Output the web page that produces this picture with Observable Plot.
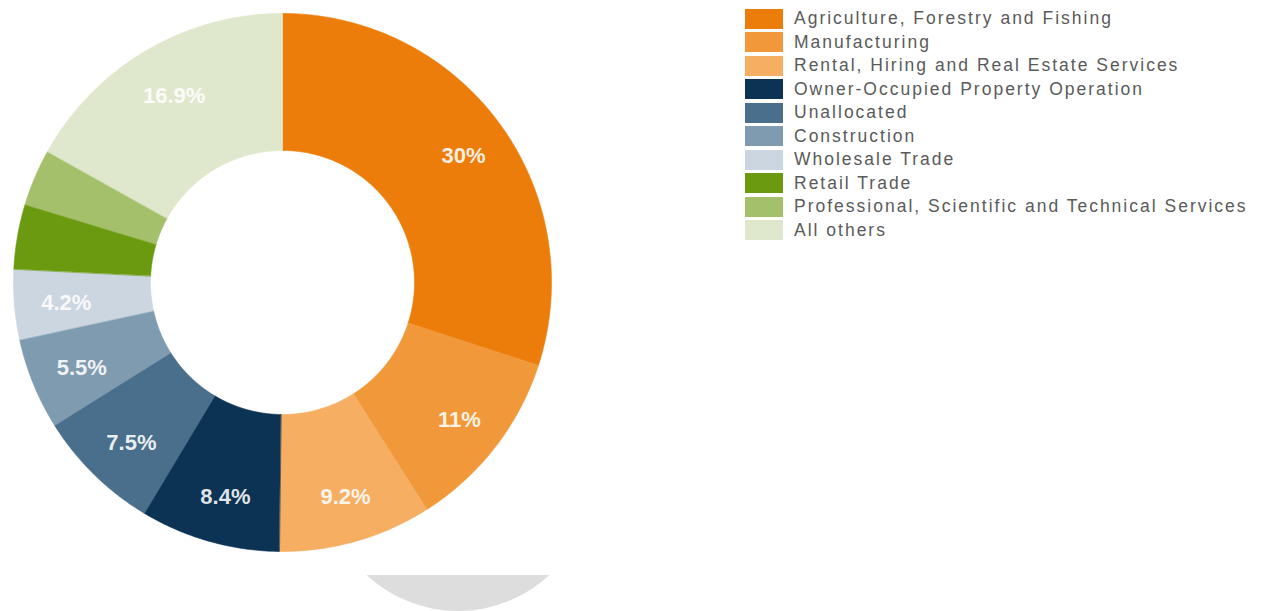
<!DOCTYPE html>
<html>
<head>
<meta charset="utf-8">
<script src="https://cdn.jsdelivr.net/npm/d3@7"></script>
<script src="https://cdn.jsdelivr.net/npm/@observablehq/plot@0.6"></script>
<style>
  html, body { margin: 0; padding: 0; background: #fff; }
  #wrap { position: relative; width: 1267px; height: 611px; overflow: hidden; font-family: "Liberation Sans", Arial, sans-serif; }
  #chart { position: absolute; left: 0; top: 0; }
  #legend { position: absolute; left: 745px; top: 7px; }
  .row { display: flex; align-items: center; height: 23.5px; }
  .sw { width: 38px; height: 20px; margin-right: 11px; }
  .lab { font-size: 17.5px; letter-spacing: 2px; color: #5a5a5a; white-space: nowrap; }
  #ghost { position: absolute; left: 324px; top: 575px; width: 268px; height: 36px; overflow: hidden; }
  #ghost div { position: absolute; left: 0; top: -232px; width: 268px; height: 268px; border-radius: 50%; background: #dddddd; }
</style>
</head>
<body>
<div id="wrap">
  <div id="chart"></div>
  <div id="legend"></div>
  <div id="ghost"><div></div></div>
</div>
<script>
const categories = [
  "Agriculture, Forestry and Fishing",
  "Manufacturing",
  "Rental, Hiring and Real Estate Services",
  "Owner-Occupied Property Operation",
  "Unallocated",
  "Construction",
  "Wholesale Trade",
  "Retail Trade",
  "Professional, Scientific and Technical Services",
  "All others"
];
const values = [30, 11, 9.2, 8.4, 7.5, 5.5, 4.2, 3.9, 3.4, 16.9];
const labels = ["30%", "11%", "9.2%", "8.4%", "7.5%", "5.5%", "4.2%", "", "", "16.9%"];
const colors = ["#ec7d0b", "#f1993a", "#f5ae62", "#0c3354", "#4a6f8d", "#7f9bb0", "#ccd6e0", "#6b9a10", "#a4c06a", "#dfe7cd"];

const innerR = 132 / 269;
const labelR = 220 / 269;

const arcs = d3.pie().sort(null).value(d => d.value)(categories.map((c, i) => ({cat: c, value: values[i], label: labels[i]})));

// polygon outline of each ring segment in unit (data) space
const pts = [];
for (const a of arcs) {
  const n = Math.max(8, Math.ceil((a.endAngle - a.startAngle) / 0.01));
  for (let k = 0; k <= n; k++) {
    const t = a.startAngle + (a.endAngle - a.startAngle) * k / n;
    pts.push({cat: a.data.cat, x: Math.sin(t), y: Math.cos(t)});
  }
  for (let k = n; k >= 0; k--) {
    const t = a.startAngle + (a.endAngle - a.startAngle) * k / n;
    pts.push({cat: a.data.cat, x: innerR * Math.sin(t), y: innerR * Math.cos(t)});
  }
}
const labs = arcs.filter(a => a.data.label).map(a => {
  const m = (a.startAngle + a.endAngle) / 2;
  return {text: a.data.label, x: labelR * Math.sin(m), y: labelR * Math.cos(m)};
});

const chart = Plot.plot({
  width: 570,
  height: 611,
  margin: 0,
  x: {domain: [-1, 1], range: [13, 551], axis: null},
  y: {domain: [-1, 1], range: [551, 13], axis: null},
  color: {domain: categories, range: colors},
  marks: [
    Plot.line(pts, {x: "x", y: "y", z: "cat", fill: "cat", stroke: "cat", strokeWidth: 0.6, curve: "linear-closed"}),
    Plot.text(labs, {x: "x", y: "y", text: "text", dx: 3, dy: 3, fill: "white", fillOpacity: 0.88, fontWeight: "bold", fontSize: 22, fontFamily: "Liberation Sans, Arial, sans-serif"})
  ]
});
document.getElementById("chart").appendChild(chart);

const legend = d3.select("#legend");
categories.forEach((c, i) => {
  const r = legend.append("div").attr("class", "row");
  r.append("div").attr("class", "sw").style("background", colors[i]);
  r.append("div").attr("class", "lab").text(c);
});
</script>
</body>
</html>
